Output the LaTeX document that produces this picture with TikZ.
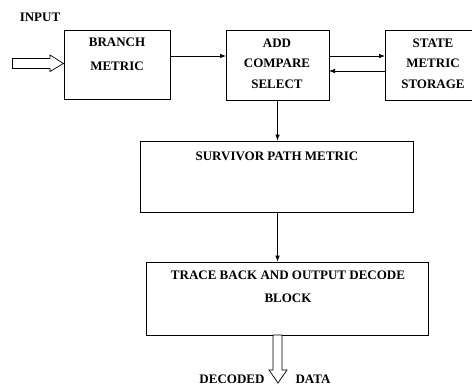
\documentclass[tikz,border=0pt]{standalone}
\usepackage{fontspec}
\setmainfont{Liberation Serif}
\usetikzlibrary{arrows.meta}
\begin{document}
\begin{tikzpicture}[x=1pt,y=-1pt,
  blk/.style={draw,line width=0.8pt,inner sep=0pt},
  lbl/.style={font=\fontsize{13}{20.5}\selectfont\bfseries,align=center,inner sep=0pt},
  conn/.style={line width=0.7pt,-{Latex[length=6pt,width=4.5pt]}},
  hollow/.style={draw,line width=0.7pt,fill=white}]
\clip (0,0) rectangle (472,385);
% boxes
\node[blk,minimum width=106pt,minimum height=69pt] (bm) at (117,64.5) {};
\node[blk,minimum width=103pt,minimum height=70pt] (acs) at (277.5,65) {};
\node[blk,minimum width=96pt,minimum height=70pt] (sms) at (433,65) {};
\node[blk,minimum width=273pt,minimum height=71pt] (spm) at (276.5,176.5) {};
\node[blk,minimum width=282pt,minimum height=73pt] (tb) at (287,298.5) {};
% texts
\node[lbl] (tin) at (40,17) {INPUT};
\node[lbl,font=\fontsize{13}{24}\selectfont\bfseries] (tbm) at (117,54) {BRANCH\\METRIC};
\node[lbl] (tacs) at (277,63.5) {ADD\\COMPARE\\SELECT};
\node[lbl] (tsms) at (433,63.5) {STATE\\METRIC\\STORAGE};
\node[lbl] (tspm) at (277,156) {SURVIVOR PATH METRIC};
\node[lbl,font=\fontsize{13}{23}\selectfont\bfseries] (ttb) at (288,286.5) {TRACE BACK AND OUTPUT DECODE\\BLOCK};
\node[lbl] (tdec) at (232,379) {DECODED};
\node[lbl] (tdata) at (313,379) {DATA};
% connectors
\coordinate (a1) at (170,56);
\coordinate (a2) at (226,56);
\draw[conn] (a1) -- (a2);
\coordinate (b1) at (329,56);
\coordinate (b2) at (385,56);
\draw[conn] (b1) -- (b2);
\coordinate (c1) at (385,71);
\coordinate (c2) at (329,71);
\draw[conn] (c1) -- (c2);
\draw[conn] (acs.south) -- (acs.south |- spm.north);
\draw[conn] (spm.south -| acs.south) -- (acs.south |- tb.north);
% hollow arrows
\draw[hollow] (12.5,58.5) -- (50,58.5) -- (50,55) -- (63.5,63.5) -- (50,71.5) -- (50,68.5) -- (12.5,68.5) -- cycle;
\draw[hollow] (273,335) -- (282,335) -- (282,370) -- (287,370) -- (278,383) -- (269,370) -- (273,370) -- cycle;
\end{tikzpicture}
\end{document}
